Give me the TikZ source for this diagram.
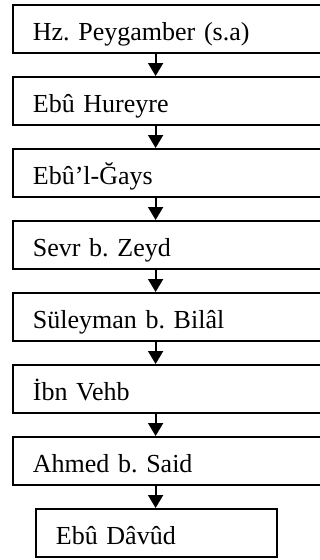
\documentclass[tikz,border=0pt]{standalone}
\usepackage{fontspec}
\setmainfont{Liberation Serif}
\usetikzlibrary{arrows.meta}
\frenchspacing
\tikzset{
  chainbox/.style={draw=black, line width=1.8pt, rectangle, inner xsep=20pt, inner ysep=0pt,
    text height=36pt, text depth=12pt, align=left, anchor=north west,
    font=\fontsize{26}{30}\selectfont},
  wide/.style={text width=278pt},
  narrow/.style={text width=201pt},
  link/.style={line width=1.8pt, -{Triangle[width=15pt,length=13pt]}}
}
\begin{document}
\begin{tikzpicture}[x=1pt,y=-1pt]
\useasboundingbox (0,0) rectangle (320,560);
\clip (0,0) rectangle (320,560);
\node[chainbox,wide] (b1) at (12,4) {Hz. Peygamber (s.a)};
\node[chainbox,wide] (b2) at (12,76) {Ebû Hureyre};
\node[chainbox,wide] (b3) at (12,148) {Ebû’l-Ğays};
\node[chainbox,wide] (b4) at (12,220) {Sevr b. Zeyd};
\node[chainbox,wide] (b5) at (12,292) {Süleyman b. Bilâl};
\node[chainbox,wide] (b6) at (12,364) {İbn Vehb};
\node[chainbox,wide] (b7) at (12,436) {Ahmed b. Said};
\node[chainbox,narrow] (b8) at (35,508) {Ebû Dâvûd};
\coordinate (ax) at (155.6,0);
\foreach \a/\b in {b1/b2,b2/b3,b3/b4,b4/b5,b5/b6,b6/b7,b7/b8}
  \draw[link] (\a.south -| ax) -- (\b.north -| ax);
\end{tikzpicture}
\end{document}
